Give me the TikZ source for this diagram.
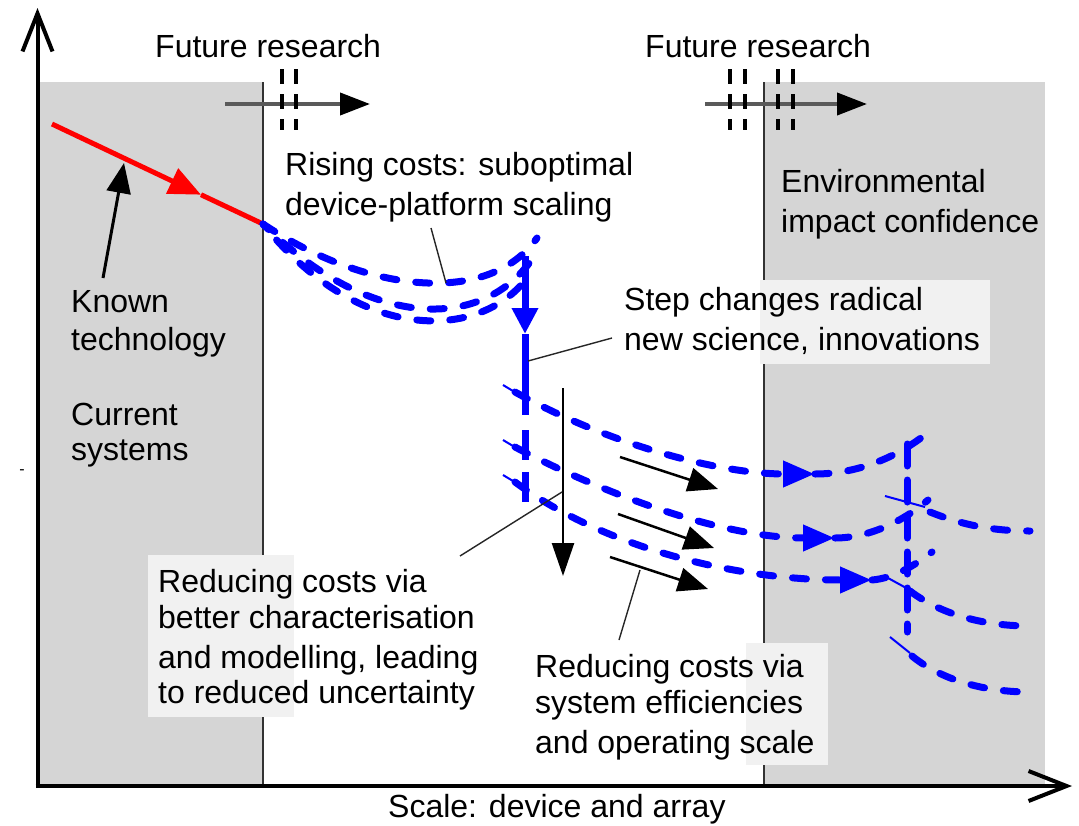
\documentclass[tikz,border=0pt]{standalone}
\usepackage{fontspec}
\setmainfont{Liberation Sans}
\usetikzlibrary{arrows.meta}
\definecolor{panelgray}{HTML}{D5D5D5}
\definecolor{boxgray}{HTML}{F1F1F1}
\definecolor{divider}{HTML}{333333}
\definecolor{frgray}{HTML}{5A5A5A}
\newcommand\lbfont{\fontsize{32}{38}\selectfont}
\begin{document}
\begin{tikzpicture}[x=1pt,y=-1pt,
  lbl/.style={anchor=base west, inner sep=0pt, font=\lbfont, text=black},
  panel/.style={fill=panelgray, draw=none},
  tbox/.style={fill=boxgray, draw=none},
  divline/.style={draw=divider, line width=1.8pt},
  frline/.style={draw=frgray, line width=4pt, -{Triangle[length=30pt,width=22pt,color=black]}},
  vtick/.style={draw=black, line width=3.5pt, dash pattern=on 15pt off 10pt},
  redline/.style={draw=red, line width=5pt},
  bluedash/.style={draw=blue, line width=7pt, line cap=round, dash pattern=on 14pt off 19pt},
  bluethin/.style={draw=blue, line width=2pt},
  bluesolid/.style={draw=blue, line width=7pt},
  blk/.style={draw=black, line width=2.5pt, -{Triangle[length=30pt,width=24pt]}},
  leader/.style={draw=black!85, line width=1.4pt},
  axis/.style={draw=black, line width=4pt, -{Straight Barb[length=38pt,width=30pt]}}
]
\useasboundingbox (0,0) rectangle (1079,825);
\fill[white] (0,0) rectangle (1079,825);

% panels
\path[panel] (39,82) rectangle (263,785);
\path[panel] (764,82) rectangle (1045,785);
\draw[divline] (263,82) -- (263,785);
\draw[divline] (764,82) -- (764,785);

% future research arrows
\coordinate (fa1s) at (225,104); \coordinate (fa1e) at (370,104);
\coordinate (fa2s) at (705,104); \coordinate (fa2e) at (867,104);
\draw[frline] (fa1s) -- (fa1e);
\draw[frline] (fa2s) -- (fa2e);
\foreach \xx in {282,296,730,745,778,793}{
  \draw[vtick] (\xx,69) -- (\xx,130);
}

% text background boxes
\path[tbox] (760,280) rectangle (990,364);
\path[tbox] (148,555) rectangle (294,717);
\path[tbox] (746,643) rectangle (828,765);

% red known-technology line
\coordinate (redS) at (52,124);
\coordinate (redM) at (201,194.7);
\coordinate (redE) at (263,224);
\draw[redline, -{Triangle[length=32pt,width=27pt]}] (redS) -- (redM);
\draw[redline] (redM) -- (redE);

% rising-cost curves
\draw[bluedash] (redE) .. controls (370,295) and (490,305) .. (537,238);
\draw[bluedash, dash phase=6pt] (redE) .. controls (370,330) and (480,330) .. (530,262);
\draw[bluedash, dash phase=12pt] (redE) .. controls (360,345) and (480,340) .. (527,278);

% step change vertical
\coordinate (vtop) at (525,256);
\coordinate (vmid) at (525,334);
\coordinate (vbot) at (525,415);
\draw[bluesolid, -{Triangle[length=26pt,width=25pt]}] (vtop) -- (vmid);
\draw[bluesolid] (vmid) -- (vbot);
\draw[bluesolid, dash pattern=on 30pt off 12pt] (525,430) -- (525,502);

% lower three curves (incoming)
\draw[bluethin] (503,385) -- (518,394);
\draw[bluethin] (503,440) -- (518,449);
\draw[bluethin] (503,475) -- (518,484);
\coordinate (u1t) at (815,474);
\coordinate (u2t) at (835,538);
\coordinate (u3t) at (872,580);
\draw[bluedash, -{Triangle[length=32pt,width=25pt]}] (515,392) .. controls (610,445) and (720,474) .. (u1t);
\draw[bluedash] (u1t) .. controls (860,474) and (900,455) .. (926,434);
\draw[bluedash, -{Triangle[length=32pt,width=25pt]}] (515,447) .. controls (600,492) and (720,538) .. (u2t);
\draw[bluedash] (u2t) .. controls (870,538) and (905,520) .. (928,500);
\draw[bluedash, -{Triangle[length=32pt,width=25pt]}] (515,482) .. controls (600,545) and (730,580) .. (u3t);
\draw[bluedash] (u3t) .. controls (895,578) and (915,565) .. (932,552);

% right vertical dashed and outgoing curves
\draw[bluesolid, line cap=round, dash pattern=on 22pt off 14pt] (907,444) -- (907,632);
\draw[bluethin] (885,496) -- (925,507);
\draw[bluethin] (888,578) -- (908,589);
\draw[bluethin] (890,637) -- (910,653);
\draw[bluedash] (930,512) .. controls (960,524) and (990,531) .. (1030,531);
\draw[bluedash] (910,591) .. controls (935,610) and (975,626) .. (1030,626);
\draw[bluedash] (912,656) .. controls (935,675) and (975,692) .. (1030,692);

% black arrows
\coordinate (kTail) at (103,278); \coordinate (kHead) at (124,163);
\draw[blk, line width=3pt] (kTail) -- (kHead);
\coordinate (dvS) at (563,388); \coordinate (dvE) at (563,576);
\draw[blk, -{Triangle[length=33pt,width=22pt]}] (dvS) -- (dvE);
\coordinate (a1s) at (620,457); \coordinate (a1e) at (718,489);
\coordinate (a2s) at (618,514); \coordinate (a2e) at (714,548);
\coordinate (a3s) at (610,557); \coordinate (a3e) at (708,589);
\draw[blk] (a1s) -- (a1e);
\draw[blk] (a2s) -- (a2e);
\draw[blk] (a3s) -- (a3e);

% text
\node[lbl] (fr1) at (155,57) {Future research};
\node[lbl] (fr2) at (645,57) {Future research};
\node[lbl] (rc1) at (285,175) {Rising costs: suboptimal};
\node[lbl] (rc2) at (285,215) {device-platform scaling};
\node[lbl] (en1) at (781,192) {Environmental};
\node[lbl] (en2) at (781,232) {impact confidence};
\node[lbl] (kt1) at (71,312) {Known};
\node[lbl] (kt2) at (71,350) {technology};
\node[lbl] (cs1) at (71,425) {Current};
\node[lbl] (cs2) at (71,460) {systems};
\node[lbl] (sc1) at (624,310) {Step changes radical};
\node[lbl] (sc2) at (624,350) {new science, innovations};
\node[lbl] (rd1) at (158,592) {Reducing costs via};
\node[lbl] (rd2) at (158,628) {better characterisation};
\node[lbl] (rd3) at (158,668) {and modelling, leading};
\node[lbl] (rd4) at (158,703) {to reduced uncertainty};
\node[lbl] (rs1) at (535,677) {Reducing costs via};
\node[lbl] (rs2) at (535,713) {system efficiencies};
\node[lbl] (rs3) at (535,753) {and operating scale};
\node[lbl] (xl) at (388,817) {Scale: device and array};
\node[anchor=center, inner sep=0pt, font=\fontsize{16}{16}\selectfont] (tickm) at (22,472) {-};

% leader lines
\coordinate (l1a) at (431,228); \coordinate (l1b) at (446,283);
\draw[leader] (l1a) -- (l1b);
\coordinate (l2a) at (612,338); \coordinate (l2b) at (528,361);
\draw[leader] (l2a) -- (l2b);
\coordinate (l3a) at (460,556); \coordinate (l3b) at (562,492);
\draw[leader] (l3a) -- (l3b);
\coordinate (l4a) at (640,570); \coordinate (l4b) at (619,640);
\draw[leader] (l4a) -- (l4b);

% axes
\coordinate (origin) at (37.5,788);
\coordinate (ytop) at (37.5,8);
\coordinate (xend) at (1072,786);
\draw[axis] (origin) -- (ytop);
\draw[axis] (35.5,786) -- (xend);
\end{tikzpicture}
\end{document}
